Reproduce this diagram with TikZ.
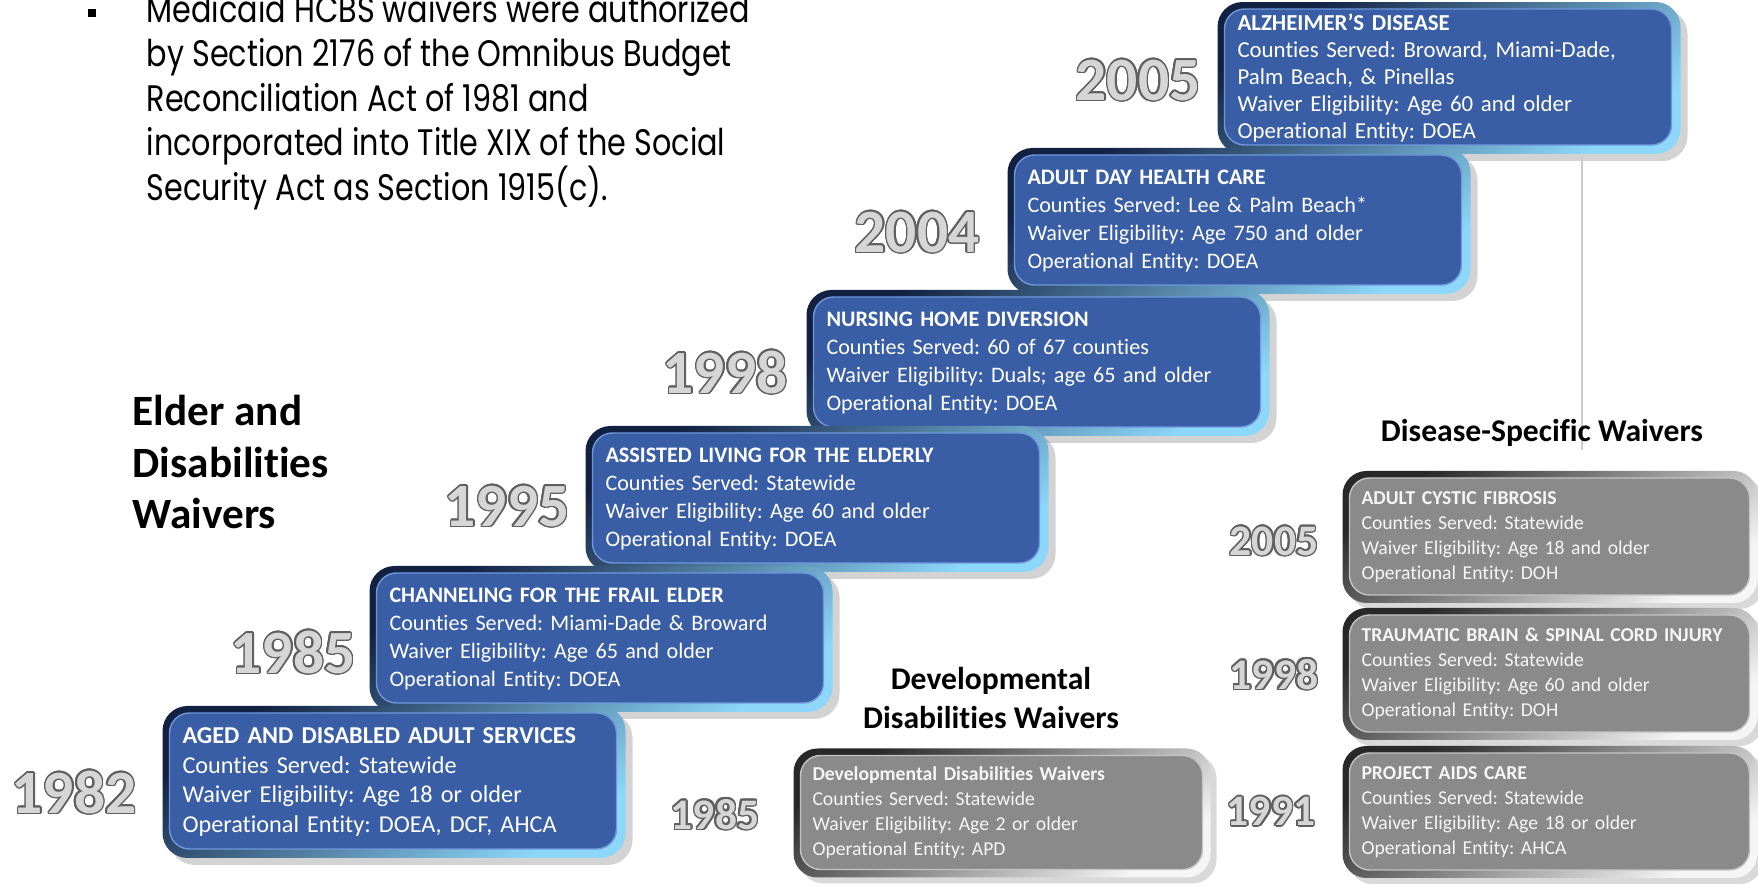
\documentclass[tikz,border=0pt]{standalone}
\usepackage{fontspec}
\setmainfont{Carlito}[Ligatures=NoCommon, RawFeature=-clig, RawFeature=-dlig]
\newfontfamily\gothicfont[FakeStretch=0.82]{Poppins}
\usepackage{contour}
\contourlength{0.45pt}
\usetikzlibrary{positioning,shadows}
\frenchspacing

\definecolor{boxblue}{RGB}{57,94,166}
\definecolor{navyedge}{RGB}{18,32,66}
\definecolor{skyedge}{RGB}{140,215,250}
\definecolor{blueline}{RGB}{112,152,218}
\definecolor{boxgray}{RGB}{138,138,138}
\definecolor{grayedge}{RGB}{40,40,40}
\definecolor{paleedge}{RGB}{245,245,245}
\definecolor{grayline}{RGB}{195,195,195}
\definecolor{graytext}{RGB}{246,246,246}
\definecolor{yearfill}{RGB}{214,214,214}
\definecolor{yearedge}{RGB}{95,95,95}

\begin{document}
\begin{tikzpicture}[
  x=0.1mm, y=-0.1mm,
  bluebox/.style={
    rounded corners=2.5mm, minimum width=46.3mm, minimum height=14.6mm,
    inner xsep=2mm, text width=42.3mm, align=left, text=white,
    font=\fontsize{6.3}{8}\selectfont,
    top color=navyedge, bottom color=skyedge, shading angle=35,
    drop shadow={opacity=.35, shadow xshift=.7mm, shadow yshift=-.7mm},
    path picture={
      \fill[boxblue, draw=blueline, line width=.4pt, rounded corners=2mm]
        ([shift={(7,7)}]path picture bounding box.north west) rectangle
        ([shift={(-9,-9)}]path picture bounding box.south east);
    },
  },
  graybox/.style={
    rounded corners=2.4mm, minimum width=41.5mm, minimum height=13.2mm,
    inner xsep=1.9mm, text width=37.7mm, align=left, text=graytext,
    font=\fontsize{5.6}{7.1}\selectfont,
    top color=grayedge, bottom color=paleedge, shading angle=35,
    drop shadow={opacity=.3, shadow xshift=.6mm, shadow yshift=-.6mm},
    path picture={
      \fill[boxgray, draw=grayline, line width=.4pt, rounded corners=2mm]
        ([shift={(7,7)}]path picture bounding box.north west) rectangle
        ([shift={(-8,-8)}]path picture bounding box.south east);
    },
  },
  bigyear/.style={font=\bfseries\fontsize{17.5}{18}\selectfont, text=yearfill, inner sep=0},
  smallyear/.style={font=\bfseries\fontsize{12.4}{13}\selectfont, text=yearfill, inner sep=0},
  heading/.style={font=\bfseries\fontsize{9}{11}\selectfont, align=center, inner sep=0},
  guide/.style={draw=gray!40, line width=.3pt},
  ]
  \useasboundingbox (0,0) rectangle (1758,886);

  \node[fill=black, minimum width=0.75mm, minimum height=0.8mm, inner sep=0] (bullet) at (92,13) {};
  \node[anchor=west, align=left, inner sep=0, font=\gothicfont\fontsize{10.5}{12.7}\selectfont] (hcbs) at (146,102)
    {Medicaid HCBS waivers were authorized\\
     by Section 2176 of the Omnibus Budget\\
     Reconciliation Act of 1981 and\\
     incorporated into Title XIX of the Social\\
     Security Act as Section 1915(c).};

  \node[bluebox, font=\fontsize{6.5}{7.7}\selectfont] (alz) at (1449,78)
    {\textbf{ALZHEIMER’S DISEASE}\\Counties Served: Broward, Miami-Dade,\\Palm Beach, \& Pinellas\\Waiver Eligibility: Age 60 and older\\Operational Entity: DOEA};
  \coordinate (guideend) at (1582,450);
  \draw[guide] (alz.south -| guideend) -- (guideend);
  \node[bluebox] (adhc) at (1239,221)
    {\textbf{ADULT DAY HEALTH CARE}\\Counties Served: Lee \& Palm Beach*\\Waiver Eligibility: Age 750 and older\\Operational Entity: DOEA};
  \node[bluebox] (nhd) at (1038,363)
    {\textbf{NURSING HOME DIVERSION}\\Counties Served: 60 of 67 counties\\Waiver Eligibility: Duals; age 65 and older\\Operational Entity: DOEA};
  \node[bluebox] (alf) at (817,499)
    {\textbf{ASSISTED LIVING FOR THE ELDERLY}\\Counties Served: Statewide\\Waiver Eligibility: Age 60 and older\\Operational Entity: DOEA};
  \node[bluebox] (cfe) at (601,639)
    {\textbf{CHANNELING FOR THE FRAIL ELDER}\\Counties Served: Miami-Dade \& Broward\\Waiver Eligibility: Age 65 and older\\Operational Entity: DOEA};
  \node[bluebox, minimum height=15.2mm, font=\fontsize{6.9}{8.5}\selectfont] (ada) at (394,782)
    {\textbf{AGED AND DISABLED ADULT SERVICES}\\Counties Served: Statewide\\Waiver Eligibility: Age 18 or older\\Operational Entity: DOEA, DCF, AHCA};

  \node[bigyear] (y2005) at (1138,81) {\contour{yearedge}{2005}};
  \node[bigyear] (y2004) at (917,233) {\contour{yearedge}{2004}};
  \node[bigyear] (y1998) at (725,373) {\contour{yearedge}{1998}};
  \node[bigyear] (y1995) at (507,507) {\contour{yearedge}{1995}};
  \node[bigyear] (y1985) at (293,653) {\contour{yearedge}{1985}};
  \node[bigyear] (y1982) at (74,793)  {\contour{yearedge}{1982}};

  \node[anchor=west, align=left, inner sep=0, font=\bfseries\fontsize{12.3}{14.7}\selectfont] (elder) at (132,462)
    {Elder and\\Disabilities\\Waivers};
  \node[heading] (devhead) at (991,698) {Developmental\\Disabilities Waivers};
  \node[heading] (dishead) at (1542,433) {Disease-Specific Waivers};

  \node[graybox, minimum width=41.7mm, text width=37.9mm, minimum height=12.9mm] (ddw) at (1002,813)
    {\textbf{Developmental Disabilities Waivers}\\Counties Served: Statewide\\Waiver Eligibility: Age 2 or older\\Operational Entity: APD};
  \node[graybox] (acf) at (1550,537)
    {\textbf{ADULT CYSTIC FIBROSIS}\\Counties Served: Statewide\\Waiver Eligibility: Age 18 and older\\Operational Entity: DOH};
  \node[graybox] (tbi) at (1550,674)
    {\textbf{TRAUMATIC BRAIN \& SPINAL CORD INJURY}\\Counties Served: Statewide\\Waiver Eligibility: Age 60 and older\\Operational Entity: DOH};
  \node[graybox] (aids) at (1550,812)
    {\textbf{PROJECT AIDS CARE}\\Counties Served: Statewide\\Waiver Eligibility: Age 18 or older\\Operational Entity: AHCA};

  \node[smallyear] (g1985) at (715,815)  {\contour{yearedge}{1985}};
  \node[smallyear] (g2005) at (1274,542) {\contour{yearedge}{2005}};
  \node[smallyear] (g1998) at (1274,675) {\contour{yearedge}{1998}};
  \node[smallyear] (g1991) at (1271,812) {\contour{yearedge}{1991}};
\end{tikzpicture}
\end{document}
